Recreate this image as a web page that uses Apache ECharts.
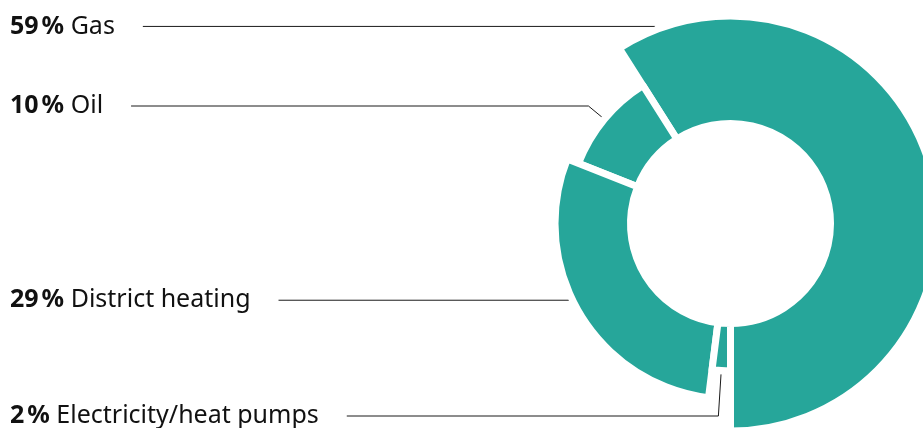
<!DOCTYPE html>
<html>
<head>
<meta charset="utf-8">
<script src="https://cdn.jsdelivr.net/npm/echarts@6/dist/echarts.min.js"></script>
<style>
  html, body { margin: 0; padding: 0; background: #fff; }
  #chart { width: 923px; height: 428px; }
</style>
</head>
<body>
<div id="chart"></div>
<script>
// Heating sources, share in percent
const categories = ['Gas', 'Oil', 'District heating', 'Electricity/heat pumps'];
const shares = [59, 10, 29, 2];

// Drawing settings for each sector (outer radius incl. half of the white gap)
const outerRadius = [207.5, 163.5, 175.5, 147.5];
const innerRadius = 100;
const gapWidth = 7;
// Fraction along each sector where its leader line starts
const leaderAt = [0.946, 0.5, 0.45, 0.5];
// Row of each label; null means the row sits level with the leader start
const labelRow = [null, 106, null, 416];
const CX = 730.5, CY = 223.5;
const TEAL = '#26a69a';
const INK = '#111111';
const FONT = 'Noto Sans';

const total = shares.reduce((a, b) => a + b, 0);
const cumulative = shares.map((_, i) => shares.slice(0, i).reduce((a, b) => a + b, 0));

// Leader line: starts just outside the sector, bends (if needed) and runs left to the label
function leader(i, labelWidth) {
  const visibleR = outerRadius[i] - gapWidth / 2;
  const clock = 180 - (cumulative[i] + leaderAt[i] * shares[i]) / total * 360;
  const phi = clock * Math.PI / 180;
  const dx = Math.sin(phi), dy = -Math.cos(phi);
  const r = visibleR + 7;
  const ax = CX + r * dx, ay = CY + r * dy;
  const y = labelRow[i] == null ? ay : labelRow[i];
  const pts = [[ax, ay]];
  if (Math.abs(y - ay) > 0.5) {
    const t = (y - ay) / dy;
    pts.push([ax + t * dx, y]);
  }
  pts.push([10 + labelWidth + 28, y]);
  return { y: y, pts: pts };
}

const rich = {
  v: { fontFamily: FONT, fontWeight: 'bold', fontSize: 25, color: INK },
  p: { fontFamily: FONT, fontWeight: 'bold', fontSize: 25, color: INK, padding: [0, 0, 0, 3] },
  n: { fontFamily: FONT, fontWeight: 'normal', fontSize: 25, color: INK }
};

const chart = echarts.init(document.getElementById('chart'), null, { renderer: 'canvas' });

const series = categories.map((name, i) => ({
  type: 'pie',
  center: [CX, CY],
  radius: [innerRadius, outerRadius[i]],
  startAngle: 270,
  clockwise: false,
  silent: true,
  animation: false,
  avoidLabelOverlap: false,
  emphasis: { disabled: true },
  label: {
    show: false,
    position: 'outside',
    fontFamily: FONT,
    fontSize: 25,
    color: INK,
    formatter: p => `{v|${p.value}}{p|%} {n|${p.name}}`,
    rich: rich
  },
  labelLine: { show: false, lineStyle: { color: '#1a1a1a', width: 1 } },
  data: categories.map((n, j) => j === i
    ? {
        name: n, value: shares[j],
        itemStyle: { color: TEAL, borderColor: '#ffffff', borderWidth: gapWidth },
        label: { show: true },
        labelLine: { show: true, smooth: false, lineStyle: { color: '#1a1a1a', width: 1 } }
      }
    : {
        name: n, value: shares[j],
        itemStyle: { color: 'rgba(0,0,0,0)', borderWidth: 0 },
        label: { show: false },
        labelLine: { show: false }
      }),
  labelLayout: params => {
    if (params.dataIndex !== i) return;
    const L = leader(i, params.labelRect.width);
    return { x: 10, y: L.y, align: 'left', verticalAlign: 'middle', labelLinePoints: L.pts };
  }
}));

chart.setOption({
  backgroundColor: '#ffffff',
  animation: false,
  series: series
});
</script>
</body>
</html>
